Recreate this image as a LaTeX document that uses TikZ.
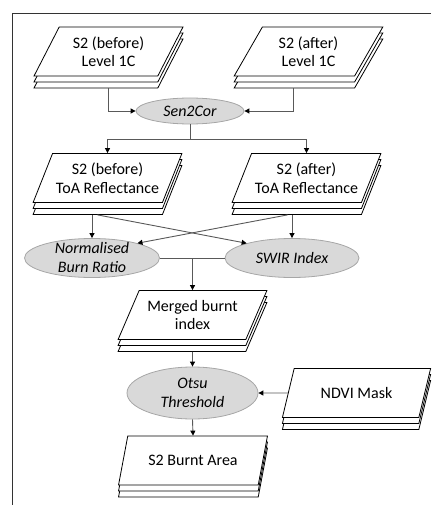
\documentclass[tikz,border=0pt]{standalone}
\usepackage{fontspec}
\setmainfont{Carlito}
\usetikzlibrary{shapes.geometric,shadows,arrows.meta,positioning}

\tikzset{
  sheet/.style={trapezium, trapezium left angle=59, trapezium right angle=121,
    trapezium stretches=true, minimum width=149pt, minimum height=49pt,
    draw=black, fill=white, line width=0.8pt, align=center, inner sep=0pt,
    copy shadow={shadow xshift=0pt, shadow yshift=-12pt, draw=black, fill=white, line width=0.8pt},
    copy shadow={shadow xshift=0pt, shadow yshift=-6pt, draw=black, fill=white, line width=0.8pt},
    font=\fontsize{16}{18.5}\selectfont},
  proc/.style={ellipse, draw=gray!70, fill=gray!30, line width=0.8pt,
    inner xsep=0pt, inner ysep=-5pt, align=center,
    font=\fontsize{16}{19}\selectfont\itshape},
  link/.style={draw=black!65, line width=0.9pt},
  arr/.style={link, -{Triangle[length=5pt,width=5pt,color=black]}},
}

\begin{document}
\begin{tikzpicture}[x=1pt, y=-1pt]
    \useasboundingbox (0,0) rectangle (431,505);
    \draw[line width=0.9pt, black!80] (431,13) -- (12,13) -- (12,505);

    % inputs
    \node[sheet] (l1b) at (108.5,51.5) {S2 (before)\\Level 1C};
    \node[sheet] (l1a) at (308.5,51.5) {S2 (after)\\Level 1C};
    \coordinate (l1bb) at ([yshift=-12pt]l1b.south);
    \coordinate (l1ab) at ([yshift=-12pt]l1a.south);

    \node[proc, minimum width=108pt, minimum height=26pt] (sen) at (190,111) {Sen2Cor};

    \draw[arr] (l1bb) |- (sen.west);
    \draw[arr] ([xshift=-15pt]l1ab) |- (sen.east);

    % reflectance
    \node[sheet] (toab) at (107.5,178) {S2 (before)\\ToA Reflectance};
    \node[sheet] (toaa) at (306.5,178) {S2 (after)\\ToA Reflectance};
    \coordinate (toabb) at ([yshift=-12pt]toab.south);
    \coordinate (toaab) at ([yshift=-12pt]toaa.south);

    \coordinate (split) at ([yshift=-15pt]sen.south);
    \draw[link] (sen.south) -- (split);
    \draw[arr] (split) -| (toab.north);
    \draw[arr] (split) -| (toaa.north);

    % indices
    \node[proc, minimum width=135pt, minimum height=39pt] (nbr) at (92,258) {Normalised\\Burn Ratio};
    \node[proc, minimum width=134pt, minimum height=39pt] (swir) at (292,258) {SWIR Index};

    \draw[arr] (toabb -| nbr.north) -- (nbr.north);
    \draw[arr] (toaab -| swir.north) -- (swir.north);
    \draw[arr] ([xshift=-10pt]toabb) -- (swir.162);
    \draw[arr] ([xshift=-19pt]toaab) -- (nbr.18);

    \node[sheet] (mrg) at (192.5,315) {Merged burnt\\index};
    \coordinate (mrgb) at ([yshift=-12pt]mrg.south);
    \draw[link] (nbr.east) -- (swir.west);
    \draw[arr] (nbr.east -| mrg.north) -- (mrg.north);

    % threshold
    \node[proc, minimum width=131pt, minimum height=52pt] (otsu) at (192.5,393) {Otsu\\Threshold};
    \node[sheet] (ndvi) at (356.5,393) {NDVI Mask};
    \node[sheet] (area) at (193,460.5) {S2 Burnt Area};

    \draw[arr] (mrgb) -- (otsu.north);
    \draw[arr] (ndvi.west) -- (otsu.east);
    \draw[arr] (otsu.south) -- (area.north);
\end{tikzpicture}
\end{document}
